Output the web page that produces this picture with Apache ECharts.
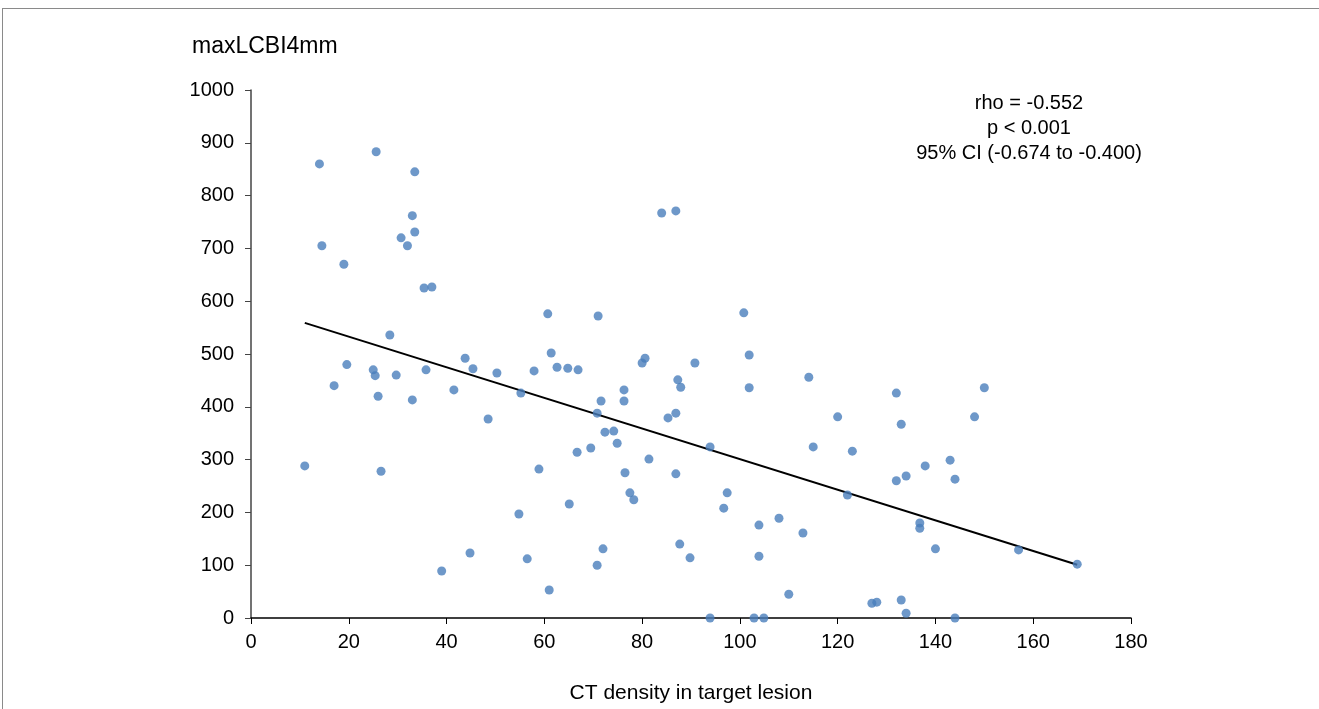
<!DOCTYPE html>
<html>
<head>
<meta charset="utf-8">
<script src="https://cdn.jsdelivr.net/npm/echarts@6/dist/echarts.min.js"></script>
<style>
  html, body { margin: 0; padding: 0; background: #fff; }
  #frame { position: absolute; left: 2px; top: 8px; right: 0; bottom: 0; border-top: 1px solid #8a8a8a; border-left: 1px solid #8a8a8a; }
  #chart { position: absolute; left: 0; top: 0; width: 1319px; height: 709px; }
</style>
</head>
<body>
<div id="frame"></div>
<div id="chart"></div>
<script>
// CT density (x) vs maxLCBI4mm (y)
const ctDensity = [
  11, 14, 14.5, 19, 17, 19.6, 25, 25.4, 26, 25.6, 26.6, 28.4, 29.7, 30.7, 32, 33, 33.5, 33.5, 33, 35.4,
  37, 35.8, 39, 41.5, 43.8, 45.4, 44.8, 48.5, 50.3, 54.8, 55.2, 56.5, 57.9, 58.9, 60.7, 61.4, 61, 62.6, 65.1, 64.8,
  66.7, 66.9, 69.5, 70.8, 70.8, 71, 71.6, 72, 72.4, 74.2, 74.9, 76.5, 76.3, 76.3, 77.5, 78.3, 80, 80.6, 81.4, 84,
  85.3, 86.9, 86.9, 86.9, 87.3, 87.9, 87.7, 89.8, 90.8, 93.9, 93.9, 96.7, 97.4, 100.8, 101.9, 101.9, 102.9, 103.9, 103.9, 104.9,
  108, 110, 112.9, 114.1, 115, 120, 122, 123, 127, 128, 132, 132, 133, 133, 134, 134, 136.8, 136.8, 137.9, 140,
  143, 144, 144, 148, 150, 157, 169
];
const maxLCBI = [
  288, 860, 705, 670, 440, 480, 470, 459, 420, 883, 278, 536, 460, 720, 705, 762, 731, 845, 413, 625,
  627, 470, 89, 432, 492, 472, 123, 377, 464, 197, 426, 112, 468, 282, 576, 502, 53, 475, 216, 473,
  314, 470, 322, 100, 388, 572, 411, 131, 352, 354, 331, 275, 432, 411, 237, 224, 483, 492, 301, 767,
  379, 771, 388, 273, 451, 437, 140, 114, 483, 324, 0, 208, 237, 578, 498, 436, 0, 176, 117, 0,
  189, 45, 161, 456, 324, 381, 233, 316, 28, 30, 426, 260, 367, 34, 9, 269, 180, 170, 288, 131,
  299, 263, 0, 381, 436, 129, 102
];
// fitted trend line end points
const trendLine = [[11, 559], [169, 101]];
const statsText = ['rho = -0.552', 'p < 0.001', '95% CI (-0.674 to -0.400)'];

const points = ctDensity.map((x, i) => [x, maxLCBI[i]]);
const font = '"Liberation Sans", Arial, sans-serif';

const chart = echarts.init(document.getElementById('chart'));
chart.setOption({
  animation: false,
  backgroundColor: 'transparent',
  textStyle: { fontFamily: font },
  grid: { left: 251, right: 188, top: 90, bottom: 91 },
  title: [
    {
      text: 'maxLCBI4mm', left: 192, top: 35, padding: 0,
      textStyle: { fontFamily: font, fontSize: 23, fontWeight: 'normal', color: '#000' }
    },
    {
      text: statsText.join('\n'), left: 1029, top: 91, padding: 0, textAlign: 'center',
      textStyle: { fontFamily: font, fontSize: 20, fontWeight: 'normal', color: '#000', lineHeight: 25, align: 'center' }
    }
  ],
  xAxis: {
    type: 'value', min: 0, max: 180, interval: 20,
    name: 'CT density in target lesion', nameLocation: 'middle', nameGap: 65,
    nameTextStyle: { fontFamily: font, fontSize: 21, color: '#000' },
    axisLine: { show: true, onZero: false, lineStyle: { color: '#000', width: 1.5 } },
    axisTick: { show: true, length: 6, lineStyle: { color: '#000' } },
    axisLabel: { fontFamily: font, fontSize: 20, color: '#000', margin: 14 },
    splitLine: { show: false }
  },
  yAxis: {
    type: 'value', min: 0, max: 1000, interval: 100,
    axisLine: { show: true, lineStyle: { color: '#444', width: 1.5 } },
    axisTick: { show: true, length: 6, lineStyle: { color: '#444' } },
    axisLabel: { fontFamily: font, fontSize: 20, color: '#000', margin: 17, formatter: v => String(v) },
    splitLine: { show: false }
  },
  series: [
    {
      type: 'scatter', data: points, symbol: 'circle', symbolSize: 9,
      itemStyle: { color: '#4a7ebb' }, z: 3
    },
    {
      type: 'line', data: trendLine, symbol: 'none',
      lineStyle: { color: '#000', width: 2 }, z: 2
    }
  ]
});
</script>
</body>
</html>
